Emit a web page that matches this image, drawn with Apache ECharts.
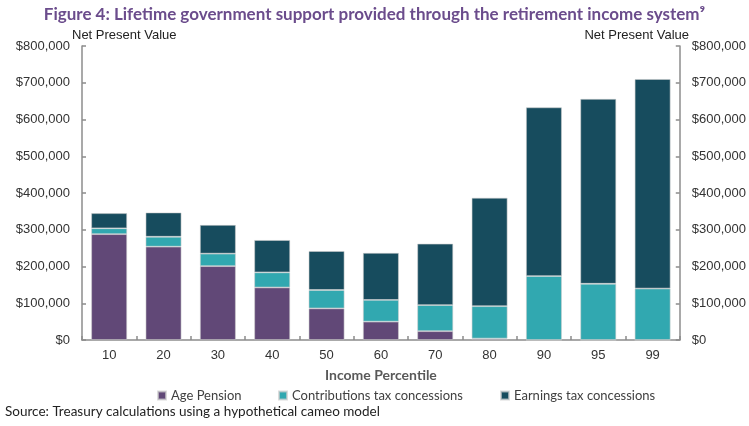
<!DOCTYPE html>
<html>
<head>
<meta charset="utf-8">
<script src="https://cdn.jsdelivr.net/npm/echarts@6/dist/echarts.min.js"></script>
<style>html,body{margin:0;padding:0;background:#fff}#c{width:749px;height:426px}</style>
</head>
<body>
<div id="c"></div>
<script>
const categories = ['10','20','30','40','50','60','70','80','90','95','99'];
const agePension = [288000,254000,201000,143000,86000,50000,24000,4000,0,0,0];
const contributionsTax = [16000,27000,34000,41000,50000,59000,71000,88000,174000,153000,140000];
const earningsTax = [41000,66000,78000,88000,106000,128000,167000,295000,459000,503000,570000];
const yTicks = [0,100000,200000,300000,400000,500000,600000,700000,800000];

const fmt = v => '$' + v.toLocaleString('en-US');
const chart = echarts.init(document.getElementById('c'), null, {renderer:'canvas'});
const axisFont = {fontFamily:'Liberation Sans, Arial', fontSize:13, color:'#333'};
function yAxis(pos){
  return {
    type:'value', position:pos, min:yTicks[0], max:yTicks[yTicks.length-1], interval:yTicks[1]-yTicks[0],
    axisLine:{show:true, lineStyle:{color:'#8c8c8c', width:1.5}},
    axisTick:{show:true, inside:true, length:4, lineStyle:{color:'#8c8c8c', width:1.5}},
    splitLine:{show:false},
    axisLabel:Object.assign({formatter:fmt, margin:12}, axisFont)
  };
}
const colors = ['#614877','#31a8b0','#174c5e'];
const names = ['Age Pension','Contributions tax concessions','Earnings tax concessions'];
const legendFont = {fontFamily:'Lato', fontSize:13, color:'#404040'};
const barStyle = c => ({color:c, borderColor:'rgba(205,205,205,0.7)', borderWidth:0.8});
chart.setOption({
  animation:false,
  color:colors,
  title:{text:'Figure 4: Lifetime government support provided through the retirement income system\u2079', left:'center', top:1,
    textStyle:{fontFamily:'Lato', fontWeight:'bold', fontSize:17, color:'#6b4c8c'}},
  legend:[
    {data:[names[0]], left:152, top:384, itemWidth:8, itemHeight:8, icon:'rect', textStyle:legendFont},
    {data:[names[1]], left:273, top:384, itemWidth:8, itemHeight:8, icon:'rect', textStyle:legendFont},
    {data:[names[2]], left:495, top:384, itemWidth:8, itemHeight:8, icon:'rect', textStyle:legendFont}
  ],
  grid:{left:82, right:67, top:46, bottom:86},
  xAxis:{type:'category', data:categories,
    name:'Income Percentile', nameLocation:'middle', nameGap:28,
    nameTextStyle:{fontFamily:'Lato', fontWeight:'bold', fontSize:14, color:'#595959'},
    axisLine:{show:true, lineStyle:{color:'#8c8c8c', width:1.5}},
    axisTick:{show:true, inside:true, length:4, alignWithLabel:false, lineStyle:{color:'#8c8c8c', width:1.5}},
    axisLabel:Object.assign({margin:9}, axisFont)},
  yAxis:[yAxis('left'), yAxis('right')],
  graphic:[
    {type:'text', left:72, top:29, style:{text:'Net Present Value', font:'13px "Liberation Sans", Arial', fill:'#222'}},
    {type:'text', right:60, top:29, style:{text:'Net Present Value', font:'13px "Liberation Sans", Arial', fill:'#222'}},
    {type:'text', left:5, top:405, style:{text:'Source: Treasury calculations using a hypothetical cameo model', font:'13.5px Lato', fill:'#222'}}
  ],
  series:[
    {name:names[0], type:'bar', stack:'t', data:agePension, barWidth:'66%', itemStyle:barStyle(colors[0])},
    {name:names[1], type:'bar', stack:'t', data:contributionsTax, barWidth:'66%', itemStyle:barStyle(colors[1])},
    {name:names[2], type:'bar', stack:'t', data:earningsTax, barWidth:'66%', itemStyle:barStyle(colors[2])}
  ]
});
</script>
</body>
</html>
